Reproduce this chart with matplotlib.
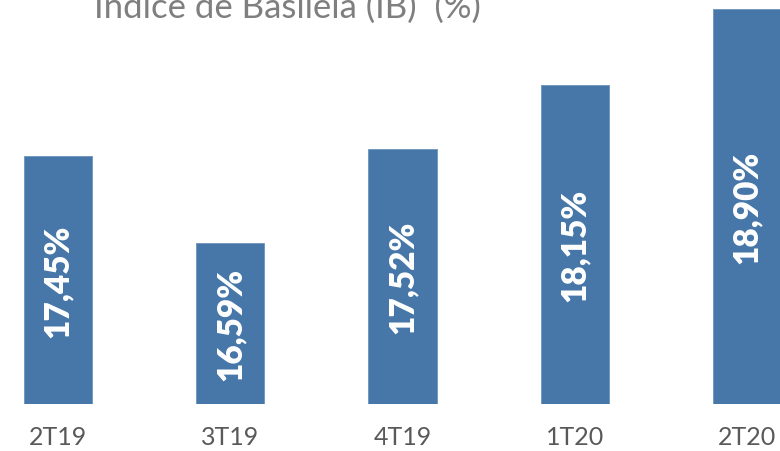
import matplotlib
matplotlib.use('Agg')
import matplotlib.pyplot as plt

periods = ['2T19', '3T19', '4T19', '1T20', '2T20']
basel_index = [17.45, 16.59, 17.52, 18.15, 18.90]
title = 'Índice de Basiléia (IB)  (%)'

plt.rcParams['font.family'] = ['Lato', 'DejaVu Sans']

fig = plt.figure(figsize=(7.8, 4.52), dpi=100)
ax = fig.add_axes([0, 0.1029, 1, 0.8971])

x = range(len(periods))
bars = ax.bar(x, basel_index, width=0.395, color='#4677a8', edgecolor='#6d94bd', linewidth=0.6)

ax.set_ylim(15, 19)
ax.set_xlim(-0.337, 4.192)

# value labels, rotated, in the middle of each bar
for rect, v in zip(bars, basel_index):
	cx = rect.get_x() + rect.get_width() / 2
	cy = 15 + (v - 15) / 2
	ax.text(cx, cy, '{:.2f}%'.format(v).replace('.', ','), rotation=90,
		ha='center', va='center', color='white', fontsize=24, fontweight='heavy')

ax.set_xticks(list(x))
ax.set_xticklabels(periods, fontsize=18, color='#595959')
ax.tick_params(axis='x', length=0, pad=15)
ax.set_yticks([])
for s in ax.spines.values():
	s.set_visible(False)

fig.text(0.368, 0.96, title, ha='center', va='baseline', fontsize=25, color='#7f7f7f')

fig.savefig('out.png', dpi=100)
